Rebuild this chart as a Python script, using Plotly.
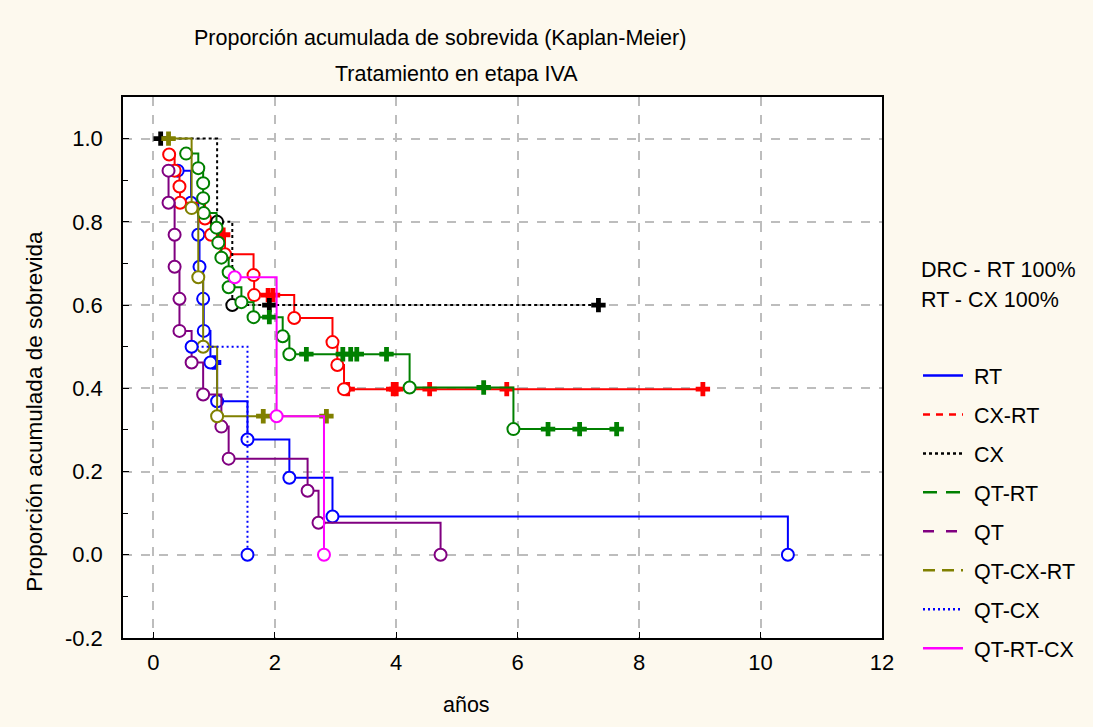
import plotly.graph_objects as go

# ---------------- data ----------------
series_names = ["RT", "CX-RT", "CX", "QT-RT", "QT", "QT-CX-RT", "QT-CX", "QT-RT-CX"]
series_colors = ["#0000FF", "#FF0000", "#000000", "#008000", "#800080", "#808000", "#0000FF", "#FF00FF"]
plot_dash = ["solid", "solid", "3px,3px", "solid", "solid", "solid", "2px,3px", "solid"]
legend_dash = ["solid", "7px,6px", "3px,3px", "14px,9px", "11px,12px", "12px,7px", "2px,3px", "solid"]

# times (years), cumulative survival, event flag (1 = event/circle, 0 = censored/plus)
RT_t = [0.40, 0.62, 0.74, 0.76, 0.82, 0.83, 0.94, 1.00, 1.05, 1.55, 2.24, 2.95, 10.45]
RT_s = [0.923, 0.846, 0.769, 0.692, 0.615, 0.538, 0.462, 0.462, 0.369, 0.277, 0.185, 0.092, 0.0]
RT_e = [1, 1, 1, 1, 1, 1, 1, 0, 1, 1, 1, 1, 1]

CXRT_t = [0.26, 0.35, 0.43, 0.44, 0.85, 0.95, 1.15, 1.18, 1.65, 1.66, 1.89, 1.97,
          2.32, 2.95, 3.03, 3.14, 3.20, 3.95, 4.00, 4.55, 5.82, 9.05]
CXRT_s = [0.962, 0.923, 0.885, 0.846, 0.808, 0.769, 0.769, 0.722, 0.672, 0.624, 0.624, 0.624,
          0.569, 0.511, 0.456, 0.398, 0.398, 0.398, 0.398, 0.398, 0.398, 0.398]
CXRT_e = [1, 1, 1, 1, 1, 1, 0, 1, 1, 1, 0, 0, 1, 1, 1, 1, 0, 0, 0, 0, 0, 0]

CX_t = [0.12, 1.05, 1.30, 1.91, 7.33]
CX_s = [1.0, 0.8, 0.6, 0.6, 0.6]
CX_e = [0, 1, 1, 0, 0]

QTRT_t = [0.54, 0.74, 0.82, 0.82, 0.83, 1.04, 1.07, 1.12, 1.24, 1.24, 1.45, 1.65, 1.91,
          2.13, 2.24, 2.52, 3.12, 3.25, 3.35, 3.84, 4.22, 5.44, 5.93, 6.50, 7.02, 7.63]
QTRT_s = [0.964, 0.929, 0.893, 0.857, 0.821, 0.786, 0.750, 0.714, 0.679, 0.643, 0.607, 0.571, 0.571,
          0.525, 0.482, 0.482, 0.482, 0.482, 0.482, 0.482, 0.402, 0.402, 0.302, 0.302, 0.302, 0.302]
QTRT_e = [1, 1, 1, 1, 1, 1, 1, 1, 1, 1, 1, 1, 0, 1, 1, 0, 0, 0, 0, 0, 1, 0, 1, 0, 0, 0]

QT_t = [0.25, 0.25, 0.35, 0.35, 0.43, 0.43, 0.63, 0.82, 1.12, 1.24, 2.54, 2.72, 4.73]
QT_s = [0.923, 0.846, 0.769, 0.692, 0.615, 0.538, 0.462, 0.385, 0.308, 0.231, 0.154, 0.077, 0.0]
QT_e = [1, 1, 1, 1, 1, 1, 1, 1, 1, 1, 1, 1, 1]

QTCXRT_t = [0.25, 0.63, 0.74, 0.82, 1.05, 1.81, 2.85]
QTCXRT_s = [1.0, 0.833, 0.667, 0.5, 0.333, 0.333, 0.333]
QTCXRT_e = [0, 1, 1, 1, 1, 0, 0]

QTCX_t = [0.63, 1.55]
QTCX_s = [0.5, 0.0]
QTCX_e = [1, 1]

QTRTCX_t = [1.34, 2.03, 2.81]
QTRTCX_s = [0.667, 0.333, 0.0]
QTRTCX_e = [1, 1, 1]

x_ticks = [0, 2, 4, 6, 8, 10, 12]
y_ticks = [-0.2, 0.0, 0.2, 0.4, 0.6, 0.8, 1.0]
y_tick_labels = ["-0.2", "0.0", "0.2", "0.4", "0.6", "0.8", "1.0"]

title_text = "Proporción acumulada de sobrevida (Kaplan-Meier)"
subtitle_text = "Tratamiento en etapa IVA"
x_title = "años"
y_title = "Proporción acumulada de sobrevida"
notes = ["DRC - RT 100%", "RT - CX 100%"]

all_series = [
    (RT_t, RT_s, RT_e), (CXRT_t, CXRT_s, CXRT_e), (CX_t, CX_s, CX_e),
    (QTRT_t, QTRT_s, QTRT_e), (QT_t, QT_s, QT_e), (QTCXRT_t, QTCXRT_s, QTCXRT_e),
    (QTCX_t, QTCX_s, QTCX_e), (QTRTCX_t, QTRTCX_s, QTRTCX_e),
]

FONT = "Arial, Liberation Sans, sans-serif"
FS = 21.5
TICK_FS = 22
YT_FS = 22.5

fig = go.Figure()

for name, color, dash, (t, s, e) in zip(series_names, series_colors, plot_dash, all_series):
    fig.add_trace(go.Scatter(x=t, y=s, mode="lines", line=dict(color=color, width=2, dash=dash, shape="hv"),
                             showlegend=False, hoverinfo="skip"))
    ev_x = [ti for ti, ei in zip(t, e) if ei == 1]
    ev_y = [si for si, ei in zip(s, e) if ei == 1]
    ce_x = [ti for ti, ei in zip(t, e) if ei == 0]
    ce_y = [si for si, ei in zip(s, e) if ei == 0]
    if ce_x:
        fig.add_trace(go.Scatter(x=ce_x, y=ce_y, mode="markers",
                                 marker=dict(symbol="cross", size=12, color=color, line=dict(width=0)),
                                 showlegend=False, hoverinfo="skip"))
    if ev_x:
        fig.add_trace(go.Scatter(x=ev_x, y=ev_y, mode="markers",
                                 marker=dict(symbol="circle", size=12, color="white",
                                             line=dict(color=color, width=2)),
                                 showlegend=False, hoverinfo="skip"))

# legend entries
for i, (name, color, dash) in enumerate(zip(series_names, series_colors, legend_dash)):
    fig.add_trace(go.Scatter(x=[None], y=[None], mode="lines", name="\u00a0" + name, legendgroup=f"g{i}",
                             line=dict(color=color, width=2.5, dash=dash)))

annotations = [
    dict(text=title_text, x=0.4177, y=1.109, xref="paper", yref="paper", showarrow=False,
         xanchor="center", yanchor="middle", font=dict(size=FS, family=FONT, color="black")),
    dict(text=subtitle_text, x=0.440, y=1.0425, xref="paper", yref="paper", showarrow=False,
         xanchor="center", yanchor="middle", font=dict(size=FS, family=FONT, color="black")),
    dict(text=x_title, x=0.453, y=-0.124, xref="paper", yref="paper", showarrow=False,
         xanchor="center", yanchor="middle", font=dict(size=FS, family=FONT, color="black")),
    dict(text=y_title, x=-0.116, y=0.42, xref="paper", yref="paper", showarrow=False, textangle=-90,
         xanchor="center", yanchor="middle", font=dict(size=YT_FS, family=FONT, color="black")),
    dict(text=notes[0], x=1.049, y=0.680, xref="paper", yref="paper", showarrow=False,
         xanchor="left", yanchor="middle", font=dict(size=FS, family=FONT, color="black")),
    dict(text=notes[1], x=1.049, y=0.625, xref="paper", yref="paper", showarrow=False,
         xanchor="left", yanchor="middle", font=dict(size=FS, family=FONT, color="black")),
]

fig.update_layout(
    width=1093, height=727,
    margin=dict(l=123, r=211, t=97, b=89),
    paper_bgcolor="#FDF9EE", plot_bgcolor="white",
    font=dict(family=FONT, size=FS, color="black"),
    annotations=annotations,
    legend=dict(xref="container", yref="container", x=918 / 1093, y=1 - 355 / 727,
                xanchor="left", yanchor="top", bgcolor="rgba(0,0,0,0)", borderwidth=0,
                tracegroupgap=8, font=dict(size=FS, family=FONT, color="black"), itemwidth=40),
    hovermode=False,
)

fig.update_xaxes(range=[-0.5, 12], tickvals=x_ticks, ticktext=[str(v) for v in x_ticks],
                 showgrid=True, gridcolor="#BDBDBD", griddash="dash", gridwidth=1.5,
                 zeroline=False, showline=True, linecolor="black", linewidth=1.5, mirror=True,
                 ticks="inside", ticklen=6, tickcolor="black", ticklabelstandoff=4,
                 tickfont=dict(size=TICK_FS, family=FONT, color="black"))
fig.update_yaxes(range=[-0.2, 1.1], tickvals=y_ticks, ticktext=y_tick_labels,
                 showgrid=True, gridcolor="#BDBDBD", griddash="dash", gridwidth=1.5,
                 zeroline=False, showline=True, linecolor="black", linewidth=1.5, mirror=True,
                 ticks="inside", ticklen=6, tickcolor="black", ticklabelstandoff=14,
                 minor=dict(dtick=0.1, tick0=0, ticks="inside", ticklen=5, tickcolor="black", showgrid=False),
                 tickfont=dict(size=TICK_FS, family=FONT, color="black"))

fig.write_html("out.html", config={"displayModeBar": False})
